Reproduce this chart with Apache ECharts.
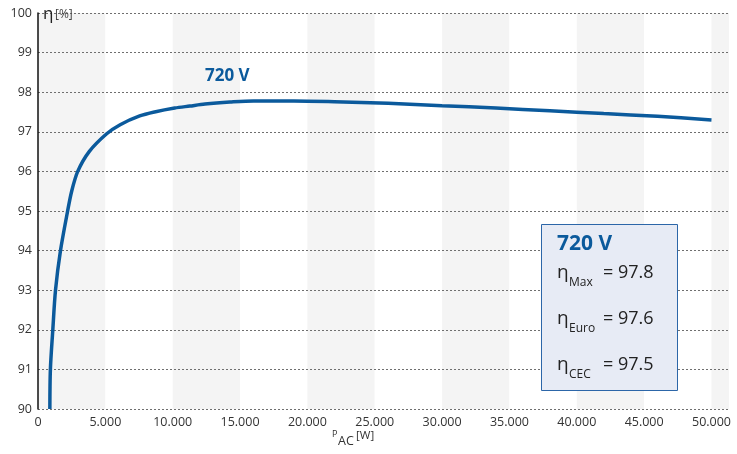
<!DOCTYPE html>
<html><head><meta charset="utf-8">
<script src="https://cdn.jsdelivr.net/npm/echarts@6/dist/echarts.min.js"></script>
<style>html,body{margin:0;padding:0;background:#fff}#c{width:737px;height:454px}</style>
</head><body><div id="c"></div>
<script>
// Data
const powerW = [880, 920, 1100, 1300, 1670, 2200, 2500, 2950, 3800, 5100, 6100, 7550, 8650, 10150, 11270, 12400, 14250, 16000, 19000, 22000, 26000, 30000, 34000, 38000, 42000, 46000, 50000];
const efficiency = [90.0, 91.0, 92.0, 93.0, 94.0, 95.0, 95.5, 96.0, 96.5, 96.95, 97.18, 97.4, 97.5, 97.6, 97.65, 97.7, 97.75, 97.78, 97.78, 97.76, 97.72, 97.66, 97.6, 97.53, 97.46, 97.39, 97.3];
const seriesName = '720 V';
const yTicks = [90, 91, 92, 93, 94, 95, 96, 97, 98, 99, 100];
const summaryLabels = [['Max', '97.8'], ['Euro', '97.6'], ['CEC', '97.5']];

const FONT = '"Open Sans", "Noto Sans", sans-serif';
const BLUE = '#0b5a9c';
const chart = echarts.init(document.getElementById('c'));

const graphics = [
  {type:'text', left:43, top:6, z:30, style:{text:'η', font:'17px ' + FONT, fill:'#222'}},
  {type:'text', left:55, top:9, z:30, style:{text:'[%]', font:'12px ' + FONT, fill:'#444'}},
  {type:'text', left:332, top:430, z:30, style:{text:'P', font:'9px ' + FONT, fill:'#333'}},
  {type:'text', left:338, top:435, z:30, style:{text:'AC', font:'12.5px ' + FONT, fill:'#333'}},
  {type:'text', left:356, top:430, z:30, style:{text:'[W]', font:'11.5px ' + FONT, fill:'#333'}},
  {type:'text', left:205, top:68, z:30, style:{text:seriesName, font:'bold 17px ' + FONT, fill:BLUE}},
  {type:'rect', shape:{x:541.5, y:224.5, width:136, height:166}, style:{fill:'#e7ebf5', stroke:'#2c66a8', lineWidth:1}, z:30},
  {type:'text', x:557, y:244.5, style:{text:seriesName, font:'bold 21px ' + FONT, fill:BLUE, textVerticalAlign:'middle'}, z:31}
];
summaryLabels.forEach((s, i) => {
  const cy = 272.5 + i * 46;
  graphics.push({type:'text', x:557, y:cy, style:{text:'η', font:'19px ' + FONT, fill:'#222', textVerticalAlign:'middle'}, z:31});
  graphics.push({type:'text', x:569, y:cy + 10, style:{text:s[0], font:'12px ' + FONT, fill:'#222', textVerticalAlign:'middle'}, z:31});
  graphics.push({type:'text', x:603, y:cy, style:{text:'= ' + s[1], font:'18px ' + FONT, fill:'#222', textVerticalAlign:'middle'}, z:31});
});

chart.setOption({
  animation:false,
  grid:{left:38, right:8, top:13, bottom:45},
  xAxis:{
    type:'value', min:0, max:51300, interval:5000,
    axisLine:{show:false}, axisTick:{show:false}, splitLine:{show:false},
    splitArea:{show:true, areaStyle:{color:['#f4f4f4', '#ffffff']}},
    axisLabel:{margin:7, fontSize:12.5, fontFamily:FONT, color:'#333',
      formatter:v => (v % 5000 !== 0) ? '' : (v === 0 ? '0' : (v / 1000) + '.000')}
  },
  yAxis:{
    type:'value', min:90, max:100, interval:1, z:5,
    axisLine:{show:true, lineStyle:{color:'#111', width:1.5}},
    axisTick:{show:false},
    axisLabel:{margin:6, fontSize:12.5, fontFamily:FONT, color:'#333'},
    splitLine:{show:true, lineStyle:{color:'#6f6f6f', width:1, type:[2, 2]}}
  },
  series:[{
    name:seriesName, type:'line', showSymbol:false, smooth:0.3, z:10,
    data: powerW.map((p, i) => [p, efficiency[i]]),
    lineStyle:{color:BLUE, width:3.5}, clip:true
  }],
  graphic: graphics
});
</script></body></html>
